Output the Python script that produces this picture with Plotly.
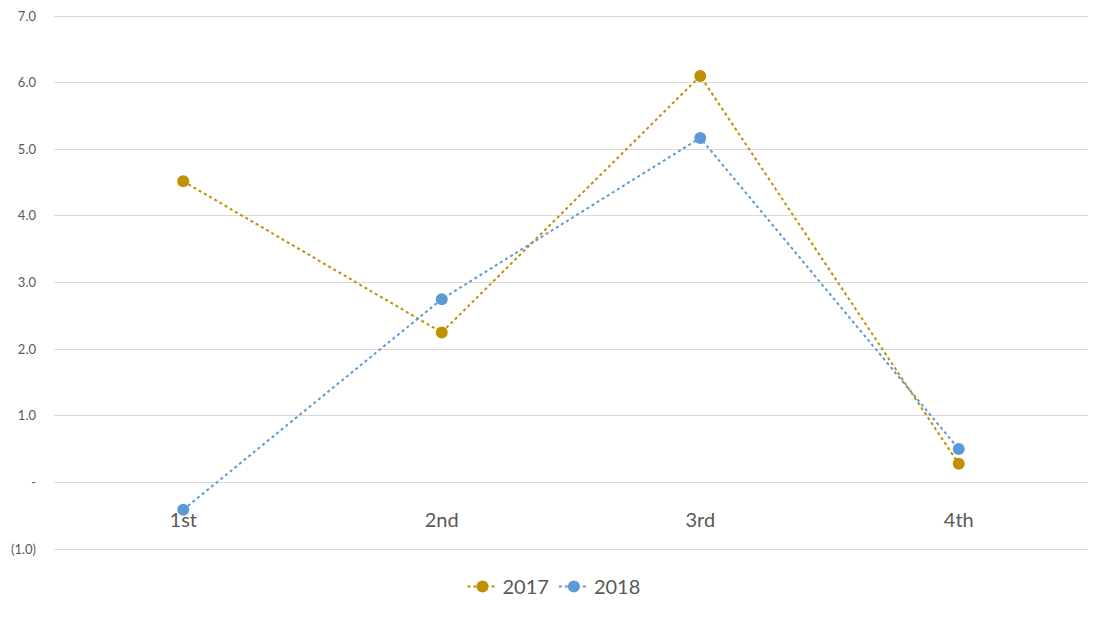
import plotly.graph_objects as go

categories = ["1st", "2nd", "3rd", "4th"]
values_2017 = [4.52, 2.25, 6.10, 0.28]
values_2018 = [-0.41, 2.75, 5.17, 0.50]
y_tickvals = [-1, 0, 1, 2, 3, 4, 5, 6, 7]
y_ticktext = ["(1.0)", "-", "1.0", "2.0", "3.0", "4.0", "5.0", "6.0", "7.0"]

fig = go.Figure()
fig.add_trace(go.Scatter(
    x=categories, y=values_2017, name="2017", mode="lines+markers",
    line=dict(color="#BF9000", width=2, dash="dot"),
    marker=dict(color="#BF9000", size=12),
))
fig.add_trace(go.Scatter(
    x=categories, y=values_2018, name="2018", mode="lines+markers",
    line=dict(color="#5B9BD5", width=2, dash="dot"),
    marker=dict(color="#5B9BD5", size=12),
))

fig.update_layout(
    width=1092, height=611,
    margin=dict(l=46, r=12, t=6, b=68, autoexpand=False),
    paper_bgcolor="white", plot_bgcolor="white",
    font=dict(family="Lato, Noto Sans, sans-serif", color="#595959"),
    showlegend=True,
    legend=dict(orientation="h", xref="container", x=0.5, xanchor="center",
                y=-0.066, yanchor="middle",
                font=dict(size=20, color="#595959"), itemwidth=30),
    xaxis=dict(
        type="category", anchor="free", position=0.128, automargin=False,
        showgrid=False, zeroline=False, showline=False, ticks="",
        tickfont=dict(size=20, color="#595959"),
        ticklabelstandoff=24,
        range=[-0.5, 3.5],
    ),
    yaxis=dict(
        range=[-1.03, 7.03], tickvals=y_tickvals, ticktext=y_ticktext,
        automargin=False, ticklabeloverflow="allow",
        showgrid=True, gridcolor="#D9D9D9", gridwidth=1,
        zeroline=False, showline=False, ticks="",
        tickfont=dict(size=13, color="#595959"),
        ticklabelstandoff=17,
    ),
)

fig.write_html("out.html")
